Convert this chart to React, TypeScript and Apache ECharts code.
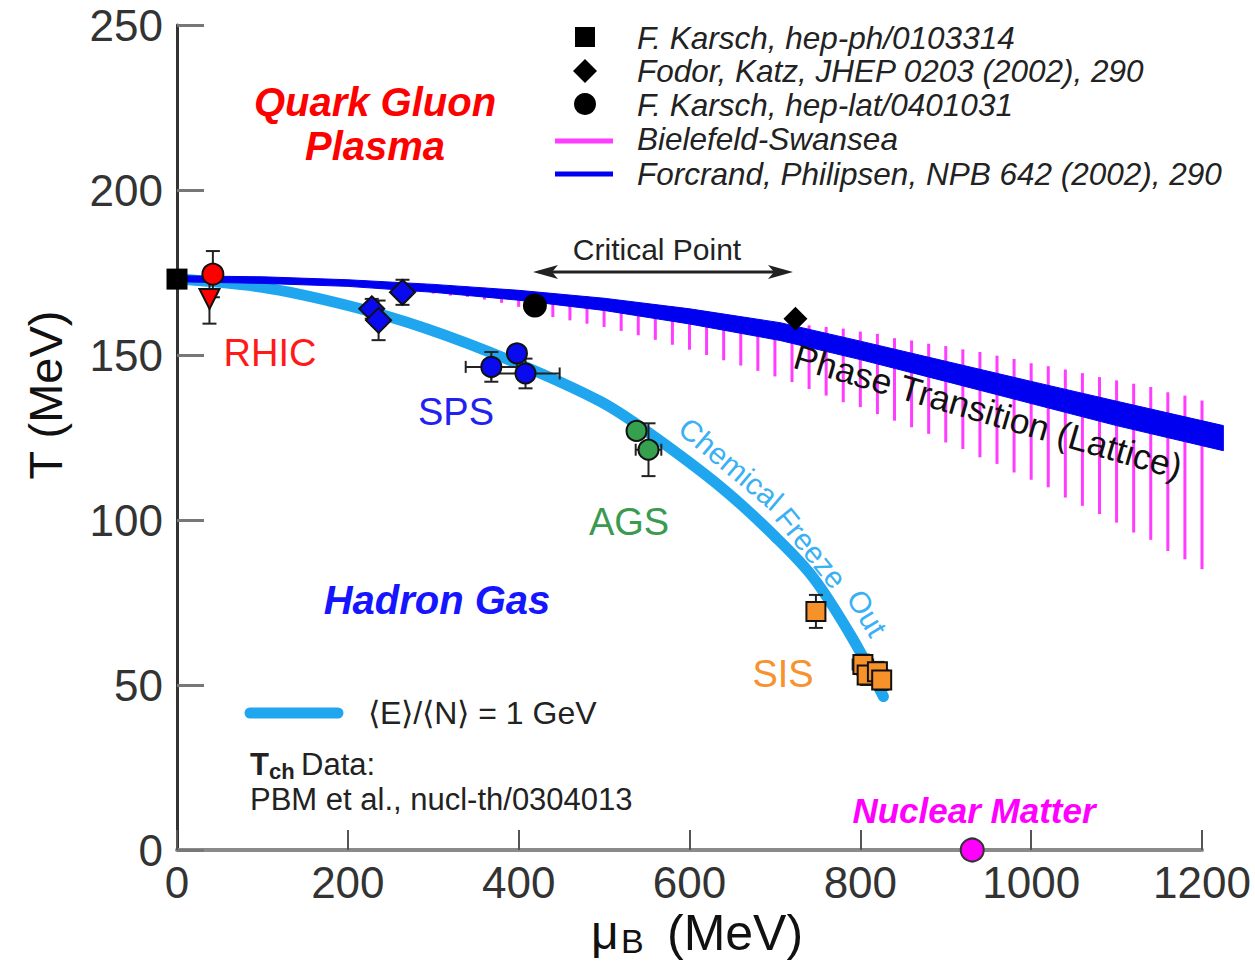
import React, { useEffect, useRef } from 'react';
import * as echarts from 'echarts';

const FONT = '"Liberation Sans", Arial, Helvetica, sans-serif';

// ---- axes ----
const xMin = 0;
const xMax = 1200;
const xStep = 200;
const yMin = 0;
const yMax = 250;
const yStep = 50;

// ---- chemical freeze-out curve  <E>/<N> = 1 GeV ----
const freezeMu = [0, 100, 200, 292, 398, 495, 552, 639, 700, 745, 790, 827];
const freezeT = [173, 170.5, 165, 158, 147.5, 136, 126.5, 109.5, 95, 82.5, 64.5, 46.5];

// ---- lattice band: Forcrand, Philipsen ----
const bandMu = [0, 100, 200, 300, 400, 500, 600, 706, 800, 900, 1000, 1100, 1225];
const bandUpper = [174, 173.7, 172.8, 171.4, 169.6, 167.2, 164.0, 159.8, 154.2, 148.1, 142.0, 136.0, 128.6];
const bandLower = [172.2, 171.7, 170.8, 169.0, 166.6, 163.5, 159.4, 154.4, 148.6, 142.0, 135.3, 128.6, 121.0];

// ---- Bielefeld-Swansea vertical bars ----
const bsMu = [180, 200, 220, 240, 260, 280, 300, 320, 340, 360, 380, 400, 420, 440, 460, 480, 500, 520, 540, 560, 580, 600, 620, 640, 660, 680, 700,
  720, 740, 760, 780, 800, 820, 840, 860, 880, 900, 920, 940, 960, 980, 1000, 1020, 1040, 1060, 1080, 1100, 1120, 1140, 1160, 1180, 1200];
const bsTop = [173, 172.8, 172.6, 172.3, 172.1, 171.8, 171.4, 171.1, 170.8, 170.4, 170.0, 169.6, 169.1, 168.6, 168.1, 167.7, 167.2, 166.6, 166.0, 165.3, 164.7, 164.0, 163.2, 162.4, 161.5, 160.6, 159.8,
  159.4, 159.0, 158.5, 158.0, 157.1, 156.4, 155.1, 154.4, 153.4, 152.7, 151.7, 150.9, 149.8, 148.8, 147.5, 146.6, 145.6, 144.5, 143.3, 142.3, 141.3, 140.3, 138.7, 137.7, 136.2];
const bsBottom = [171.6, 171.2, 170.7, 170.1, 169.6, 169.1, 168.6, 168.0, 167.6, 166.8, 165.8, 164.6, 163.3, 161.5, 160.5, 159.5, 158.5, 157.3, 156.0, 154.6, 153.1, 151.6, 150.0, 148.4, 146.8, 145.2, 143.5,
  141.8, 139.7, 137.7, 135.7, 134.2, 132.1, 130.1, 128.1, 126.1, 123.5, 121.5, 119.0, 117.0, 114.4, 112.2, 109.9, 106.8, 104.3, 101.8, 99.2, 96.2, 94.0, 90.6, 88.1, 85.1];

// ---- lattice points ----
const karschSquare = [[0, 173]];
const fodorDiamond = [[724, 161]];
const karschCircle = [[419, 165]];
const nuclearMatter = [[931, 0]];

// ---- Tch data (PBM et al.) : points and [xerr, yerr] ----
const rhicCircle = [[42, 174.5]];
const rhicCircleErr = [[0, 7]];
const rhicTriangle = [[38, 167]];
const rhicTriangleErr = [[0, 7.5]];
const spsDiamond = [[228, 164], [236, 160.5], [264, 169]];
const spsDiamondErr = [[0, 3], [8, 6], [6, 3.8]];
const spsCircle = [[368, 146.4], [398, 150.5], [408, 144.4]];
const spsCircleErr = [[30, 4.5], [0, 2], [40, 4.5]];
const agsCircle = [[538, 127], [552, 121.3]];
const agsCircleErr = [[0, 2], [15, 8]];
const sisSquare = [[748, 72.3], [803, 56.2], [808, 53], [820, 54], [825, 51.5]];
const sisSquareErr = [[0, 5], [12, 3], [0, 3], [0, 3], [0, 3]];

function withErr(pts: number[][], errs: number[][]) {
  return pts.map((p, i) => [p[0], p[1], errs[i][0], errs[i][1]]);
}

function txt(text: string, x: number, y: number, o: any = {}) {
  return {
    type: 'text',
    x,
    y,
    rotation: o.rotation || 0,
    z: 100,
    style: {
      text,
      fill: o.color || '#222',
      fontFamily: FONT,
      fontSize: o.size || 30,
      fontWeight: o.weight || 'normal',
      fontStyle: o.style || 'normal',
      align: o.align || 'center',
      verticalAlign: 'middle',
      textAlign: o.align || 'center',
      textVerticalAlign: 'middle',
    },
  };
}

export default function App() {
  const ref = useRef<HTMLDivElement>(null);

  useEffect(() => {
    if (!ref.current) return;
    const chart = echarts.init(ref.current, undefined, { renderer: 'svg' });

    const errData = [
      ...withErr(rhicCircle, rhicCircleErr),
      ...withErr(rhicTriangle, rhicTriangleErr),
      ...withErr(spsDiamond, spsDiamondErr),
      ...withErr(spsCircle, spsCircleErr),
      ...withErr(agsCircle, agsCircleErr),
      ...withErr(sisSquare, sisSquareErr),
    ];

    const errStyle = { stroke: '#222', lineWidth: 2 };
    const mk = (color: string, border = '#111') => ({ color, borderColor: border, borderWidth: 2, opacity: 1 });

    const option: any = {
      animation: false,
      backgroundColor: '#ffffff',
      grid: { left: 177, right: 53, top: 25, bottom: 111, containLabel: false },
      xAxis: {
        type: 'value',
        min: xMin,
        max: xMax,
        interval: xStep,
        axisLine: { show: true, onZero: false, lineStyle: { color: '#8a8a8a', width: 4 } },
        axisTick: { show: true, inside: true, length: 20, lineStyle: { color: '#555', width: 2 } },
        axisLabel: { fontSize: 44, color: '#333', margin: 10, fontFamily: FONT, formatter: (v: number) => String(v) },
        splitLine: { show: false },
      },
      yAxis: {
        type: 'value',
        min: yMin,
        max: yMax,
        interval: yStep,
        axisLine: { show: true, onZero: false, lineStyle: { color: '#333', width: 3 } },
        axisTick: { show: true, inside: true, length: 27, lineStyle: { color: '#777', width: 3 } },
        axisLabel: { fontSize: 44, color: '#333', margin: 14, fontFamily: FONT, formatter: (v: number) => String(v) },
        splitLine: { show: false },
      },
      series: [
        {
          name: 'Bielefeld-Swansea',
          type: 'custom',
          clip: false,
          z: 1,
          data: bsMu.map((m, i) => [m, bsTop[i], bsBottom[i]]),
          encode: { x: 0, y: 1 },
          renderItem: (params: any, api: any) => {
            const m = api.value(0);
            const a = api.coord([m, api.value(1)]);
            const b = api.coord([m, api.value(2)]);
            return {
              type: 'line',
              shape: { x1: a[0], y1: a[1], x2: b[0], y2: b[1] },
              style: { stroke: '#ff3cff', lineWidth: 3 },
            };
          },
        },
        {
          name: 'freeze',
          type: 'line',
          z: 2,
          smooth: 0.35,
          showSymbol: false,
          symbol: 'none',
          clip: false,
          data: freezeMu.map((m, i) => [m, freezeT[i]]),
          lineStyle: { width: 11, color: '#1fa6ee', cap: 'round', opacity: 1 },
        },
        {
          name: 'Forcrand, Philipsen',
          type: 'custom',
          clip: false,
          z: 3,
          data: [[bandMu[0], bandUpper[0]]],
          encode: { x: 0, y: 1 },
          renderItem: (params: any, api: any) => {
            const pts: number[][] = [];
            for (let i = 0; i < bandMu.length; i++) pts.push(api.coord([bandMu[i], bandUpper[i]]));
            for (let i = bandMu.length - 1; i >= 0; i--) pts.push(api.coord([bandMu[i], bandLower[i]]));
            return { type: 'polygon', shape: { points: pts }, style: { fill: '#0000f0', stroke: '#0000f0', lineWidth: 1 } };
          },
        },
        {
          name: 'errors',
          type: 'custom',
          clip: false,
          z: 4,
          data: errData,
          encode: { x: 0, y: 1 },
          renderItem: (params: any, api: any) => {
            const x = api.value(0);
            const y = api.value(1);
            const ex = api.value(2);
            const ey = api.value(3);
            const c = api.coord([x, y]);
            const ch: any[] = [];
            if (ey > 0) {
              const t = api.coord([x, y + ey]);
              const b = api.coord([x, y - ey]);
              ch.push({ type: 'line', shape: { x1: c[0], y1: t[1], x2: c[0], y2: b[1] }, style: errStyle });
              ch.push({ type: 'line', shape: { x1: c[0] - 7, y1: t[1], x2: c[0] + 7, y2: t[1] }, style: errStyle });
              ch.push({ type: 'line', shape: { x1: c[0] - 7, y1: b[1], x2: c[0] + 7, y2: b[1] }, style: errStyle });
            }
            if (ex > 0) {
              const l = api.coord([x - ex, y]);
              const r = api.coord([x + ex, y]);
              ch.push({ type: 'line', shape: { x1: l[0], y1: c[1], x2: r[0], y2: c[1] }, style: errStyle });
              ch.push({ type: 'line', shape: { x1: l[0], y1: c[1] - 6, x2: l[0], y2: c[1] + 6 }, style: errStyle });
              ch.push({ type: 'line', shape: { x1: r[0], y1: c[1] - 6, x2: r[0], y2: c[1] + 6 }, style: errStyle });
            }
            return { type: 'group', children: ch };
          },
        },
        { type: 'scatter', z: 5, clip: false, data: karschSquare, symbol: 'rect', symbolSize: 21, itemStyle: { color: '#000', opacity: 1 } },
        { type: 'scatter', z: 5, clip: false, data: fodorDiamond, symbol: 'diamond', symbolSize: 24, itemStyle: { color: '#000', opacity: 1 } },
        { type: 'scatter', z: 5, clip: false, data: karschCircle, symbol: 'circle', symbolSize: 24, itemStyle: { color: '#000', opacity: 1 } },
        { type: 'scatter', z: 5, clip: false, data: nuclearMatter, symbol: 'circle', symbolSize: 23, itemStyle: mk('#ff00ff', '#333') },
        { type: 'scatter', z: 5, clip: false, data: rhicTriangle, symbol: 'triangle', symbolRotate: 180, symbolSize: 20, itemStyle: mk('#ff0000') },
        { type: 'scatter', z: 5, clip: false, data: rhicCircle, symbol: 'circle', symbolSize: 21, itemStyle: mk('#ff0000') },
        { type: 'scatter', z: 5, clip: false, data: spsDiamond, symbol: 'diamond', symbolSize: 25, itemStyle: mk('#0a0aee') },
        { type: 'scatter', z: 5, clip: false, data: spsCircle, symbol: 'circle', symbolSize: 20, itemStyle: mk('#0a0aee') },
        { type: 'scatter', z: 5, clip: false, data: agsCircle, symbol: 'circle', symbolSize: 20, itemStyle: mk('#35a04e') },
        { type: 'scatter', z: 5, clip: false, data: sisSquare, symbol: 'rect', symbolSize: 19, itemStyle: mk('#f7922a') },
      ],
      graphic: [
        // legend top right
        { type: 'rect', z: 100, shape: { x: 575, y: 27, width: 20, height: 20 }, style: { fill: '#000' } },
        { type: 'polygon', z: 100, shape: { points: [[585, 59], [597, 71], [585, 83], [573, 71]] }, style: { fill: '#000' } },
        { type: 'circle', z: 100, shape: { cx: 585, cy: 104, r: 11 }, style: { fill: '#000' } },
        { type: 'line', z: 100, shape: { x1: 555, y1: 141, x2: 613, y2: 141 }, style: { stroke: '#ff3cff', lineWidth: 5 } },
        { type: 'line', z: 100, shape: { x1: 555, y1: 174, x2: 613, y2: 174 }, style: { stroke: '#0000f0', lineWidth: 5 } },
        txt('F. Karsch, hep-ph/0103314', 637, 38, { align: 'left', style: 'italic', size: 31.5 }),
        txt('Fodor, Katz, JHEP 0203 (2002), 290', 637, 71, { align: 'left', style: 'italic', size: 31.5 }),
        txt('F. Karsch, hep-lat/0401031', 637, 105, { align: 'left', style: 'italic', size: 31.5 }),
        txt('Bielefeld-Swansea', 637, 139, { align: 'left', style: 'italic', size: 31.5 }),
        txt('Forcrand, Philipsen, NPB 642 (2002), 290', 637, 174, { align: 'left', style: 'italic', size: 31.5 }),
        // regions
        txt('Quark Gluon', 375, 102, { color: '#ff0000', size: 40, weight: 'bold', style: 'italic' }),
        txt('Plasma', 375, 146, { color: '#ff0000', size: 40, weight: 'bold', style: 'italic' }),
        txt('Hadron Gas', 437, 600, { color: '#1515ff', size: 40, weight: 'bold', style: 'italic' }),
        txt('Nuclear Matter', 974, 810, { color: '#ff00ff', size: 35, weight: 'bold', style: 'italic' }),
        txt('RHIC', 270, 353, { color: '#ff1a1a', size: 38 }),
        txt('SPS', 456, 412, { color: '#2222f0', size: 38 }),
        txt('AGS', 629, 522, { color: '#3a9a50', size: 38 }),
        txt('SIS', 783, 674, { color: '#f7922e', size: 38 }),
        // critical point
        txt('Critical Point', 657, 249, { color: '#222', size: 30 }),
        { type: 'line', z: 100, shape: { x1: 545, y1: 272, x2: 781, y2: 272 }, style: { stroke: '#222', lineWidth: 3 } },
        { type: 'polygon', z: 100, shape: { points: [[533, 272], [558, 265], [552, 272], [558, 279]] }, style: { fill: '#222' } },
        { type: 'polygon', z: 100, shape: { points: [[793, 272], [768, 265], [774, 272], [768, 279]] }, style: { fill: '#222' } },
        // curve labels
        txt('Phase Transition (Lattice)', 988, 412, { color: '#111', size: 35.5, rotation: -16.2 * Math.PI / 180 }),
        txt('Chemical', 731, 464, { color: '#3ab0f5', size: 30, rotation: -40 * Math.PI / 180 }),
        txt('Freeze', 811, 548, { color: '#3ab0f5', size: 30, rotation: -51 * Math.PI / 180 }),
        txt('Out', 867, 613, { color: '#3ab0f5', size: 30, rotation: -59 * Math.PI / 180 }),
        // freeze-out legend
        { type: 'line', z: 100, shape: { x1: 250, y1: 713, x2: 338, y2: 713 }, style: { stroke: '#1fa6ee', lineWidth: 11, lineCap: 'round' } },
        txt('\u27E8E\u27E9/\u27E8N\u27E9 = 1 GeV', 368, 713, { align: 'left', size: 32, color: '#222' }),
        txt('T', 250, 764, { align: 'left', size: 31, weight: 'bold', color: '#222' }),
        txt('ch', 269, 771, { align: 'left', size: 22, weight: 'bold', color: '#222' }),
        txt('Data:', 301, 764, { align: 'left', size: 31, color: '#222' }),
        txt('PBM et al., nucl-th/0304013', 250, 799, { align: 'left', size: 31, color: '#222' }),
        // axis titles
        txt('T (MeV)', 45, 395, { size: 47, color: '#111', rotation: Math.PI / 2 }),
        txt('\u03BC', 591, 932, { align: 'left', size: 48, color: '#111' }),
        txt('B', 621, 941, { align: 'left', size: 34, color: '#111' }),
        txt('(MeV)', 667, 933, { align: 'left', size: 50, color: '#111' }),
      ],
    };

    chart.setOption(option);
    return () => chart.dispose();
  }, []);

  return (
    <div
      ref={ref}
      style={{ position: 'fixed', left: 0, top: 0, width: 1255, height: 961, background: '#fff' }}
    />
  );
}
